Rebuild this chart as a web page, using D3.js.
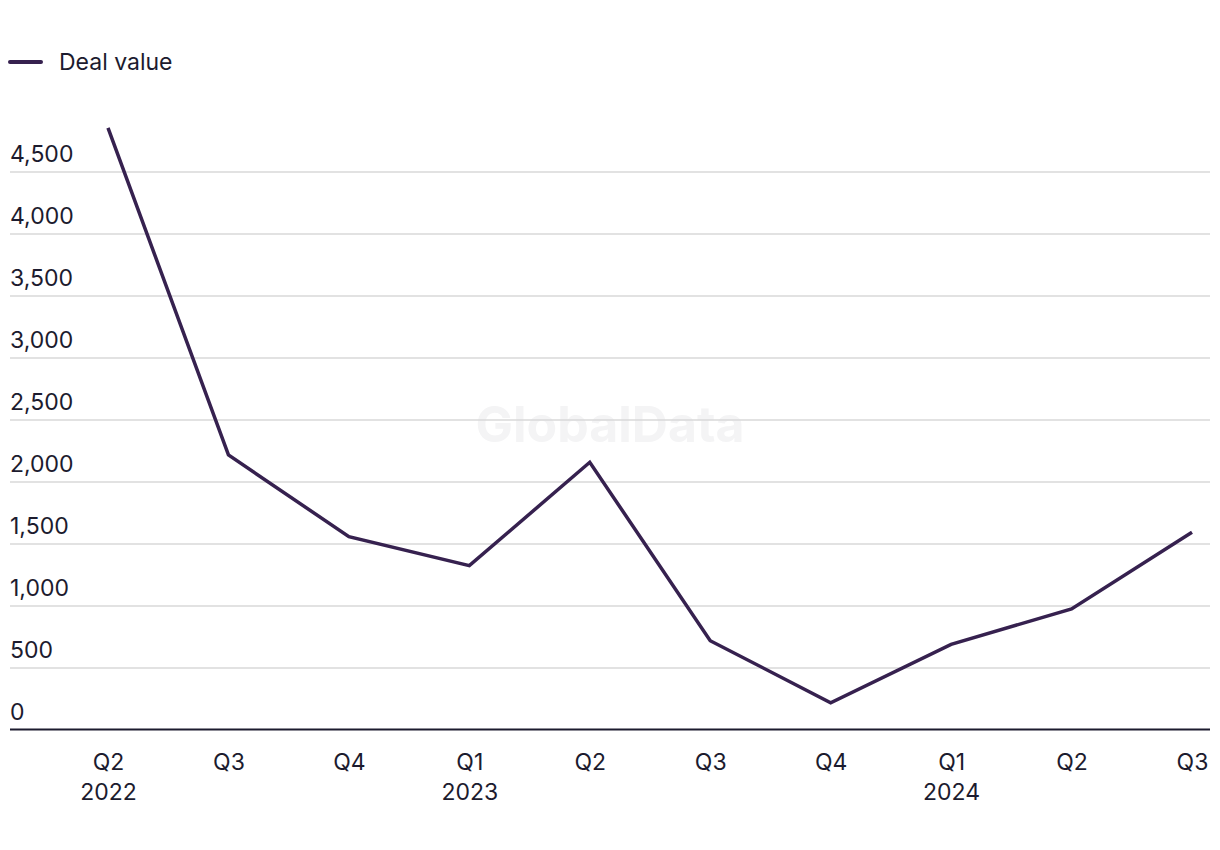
<!DOCTYPE html>
<html>
<head>
<meta charset="utf-8">
<script src="https://cdn.jsdelivr.net/npm/d3@7"></script>
<style>
  html, body { margin: 0; padding: 0; background: #ffffff; }
  svg { display: block; font-family: Inter, "Noto Sans", sans-serif; }
</style>
</head>
<body>
<svg id="chart" width="1220" height="850"></svg>
<script>
const quarters = ["Q2", "Q3", "Q4", "Q1", "Q2", "Q3", "Q4", "Q1", "Q2", "Q3"];
const years = ["2022", "", "", "2023", "", "", "", "2024", "", ""];
const dealValue = [4851, 2214, 1555, 1321, 2155, 716, 216, 687, 972, 1590];
const yTicks = [0, 500, 1000, 1500, 2000, 2500, 3000, 3500, 4000, 4500];
const seriesName = "Deal value";

const svg = d3.select("#chart");
const left = 10, right = 1210;
const keys = quarters.map((q, i) => i);

const x = d3.scalePoint().domain(keys).range([108, 1192]);
const y = d3.scaleLinear().domain([0, 4500]).range([729.5, 171.5]);

const lineColor = "#36214f";
const textColor = "#1c1b2e";

// watermark
svg.append("text")
  .attr("x", 610).attr("y", 442)
  .attr("text-anchor", "middle")
  .attr("font-size", 50).attr("font-weight", 700)
  .attr("fill", "#f4f4f5")
  .text("GlobalData");

// gridlines + y labels
const yAxis = d3.axisLeft(y).tickValues(yTicks).tickSize(0).tickFormat(d3.format(","));
const gy = svg.append("g").attr("transform", `translate(${left},0)`).call(yAxis);
gy.select(".domain").remove();
gy.selectAll(".tick text")
  .attr("x", 0).attr("dy", 0).attr("y", -10)
  .attr("text-anchor", "start")
  .attr("font-size", 23)
  .attr("font-family", "Inter, 'Noto Sans', sans-serif")
  .attr("fill", textColor);
gy.selectAll(".tick").filter(d => d !== 0)
  .append("line")
  .attr("x1", 0).attr("x2", right - left)
  .attr("stroke", "#d9d9d9").attr("stroke-width", 1.5);

// baseline
svg.append("line")
  .attr("x1", left).attr("x2", right)
  .attr("y1", y(0)).attr("y2", y(0))
  .attr("stroke", "#1c1b2e").attr("stroke-width", 2);

// x axis labels
const xAxis = d3.axisBottom(x).tickSize(0).tickFormat(i => quarters[i]);
const gx = svg.append("g").attr("transform", `translate(0,${y(0)})`).call(xAxis);
gx.select(".domain").remove();
gx.selectAll(".tick text").remove();
gx.selectAll(".tick").each(function(i) {
  const t = d3.select(this).append("text")
    .attr("text-anchor", "middle")
    .attr("font-size", 23)
    .attr("font-family", "Inter, 'Noto Sans', sans-serif")
    .attr("fill", textColor);
  t.append("tspan").attr("x", 0).attr("y", 40).text(quarters[i]);
  if (years[i]) t.append("tspan").attr("x", 0).attr("y", 70).text(years[i]);
});

// line
const line = d3.line().x((d, i) => x(i)).y(d => y(d));
svg.append("path")
  .datum(dealValue)
  .attr("d", line)
  .attr("fill", "none")
  .attr("stroke", lineColor)
  .attr("stroke-width", 3.5)
  .attr("stroke-linejoin", "miter");

// legend
const lg = svg.append("g");
lg.append("line").attr("x1", 10).attr("x2", 41).attr("y1", 62).attr("y2", 62)
  .attr("stroke", lineColor).attr("stroke-width", 4).attr("stroke-linecap", "round");
lg.append("text").attr("x", 59).attr("y", 70)
  .attr("font-size", 23).attr("fill", textColor)
  .text(seriesName);
</script>
</body>
</html>
